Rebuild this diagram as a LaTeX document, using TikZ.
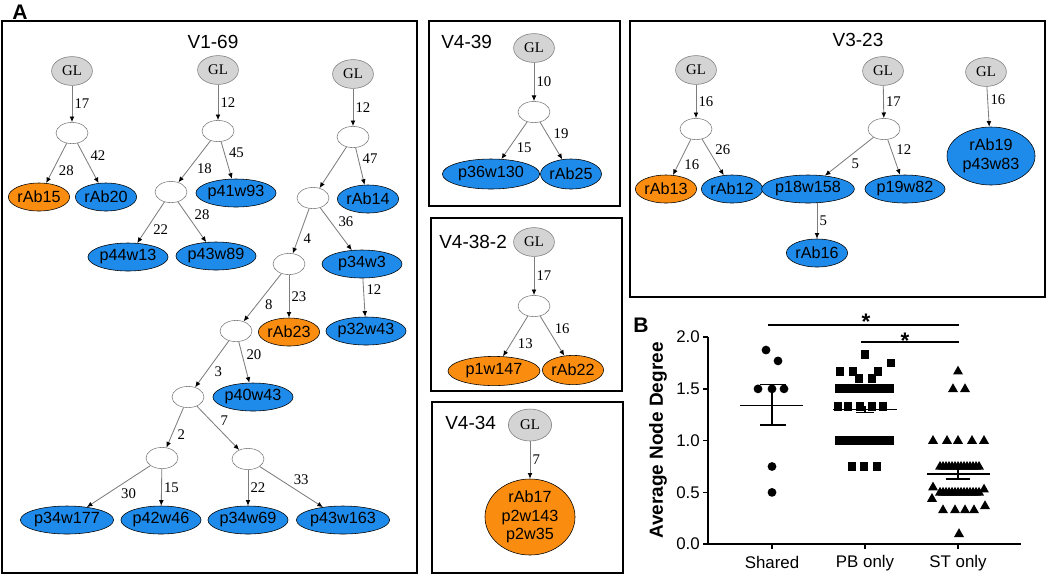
\documentclass[tikz,border=0pt]{standalone}
\usepackage{fontspec}
\setmainfont{Liberation Sans}
\newfontfamily\gvserif{Liberation Serif}
\usetikzlibrary{shapes.geometric, arrows.meta}

\definecolor{leafblue}{RGB}{30,139,235}
\definecolor{leaforange}{RGB}{250,140,15}
\definecolor{glgray}{RGB}{212,212,212}
\definecolor{edgegray}{RGB}{125,125,125}

\newcommand{\dotmark}[2]{\fill (#1,#2) circle[radius=0.11cm];}
\newcommand{\sqmark}[2]{\fill (#1,#2) ++(-0.11cm,-0.11cm) rectangle ++(0.22cm,0.22cm);}
\newcommand{\trimark}[2]{\fill (#1,#2) ++(0,0.14cm) -- ++(0.125cm,-0.22cm) -- ++(-0.25cm,0) -- cycle;}

\begin{document}
\begin{tikzpicture}[
  x=0.025cm, y=-0.025cm,
  panel/.style = {draw, line width=1.1pt},
  title/.style = {font=\fontsize{13.5}{15}\selectfont, inner sep=0pt},
  gl/.style = {ellipse, draw=edgegray, fill=glgray, minimum width=1.02cm,
               minimum height=0.72cm, inner sep=0pt,
               font=\gvserif\fontsize{10.5}{12}\selectfont},
  hid/.style = {ellipse, draw=edgegray, fill=white,
                minimum width=0.8cm, minimum height=0.53cm},
  leaf/.style = {ellipse, draw=black, inner sep=0pt, minimum height=0.7cm,
                 font=\fontsize{11.5}{13.2}\selectfont, align=center},
  bl/.style = {leaf, fill=leafblue},
  og/.style = {leaf, fill=leaforange},
  narrow/.style = {minimum width=1.53cm},
  wide/.style = {minimum width=2.0cm},
  wider/.style = {minimum width=2.33cm},
  arr/.style = {draw=edgegray, line width=0.6pt,
                -{Latex[length=4pt, width=3.4pt, black]}},
  el/.style = {auto, midway, inner sep=1.5pt,
               font=\gvserif\fontsize{10.5}{12}\selectfont},
  tick/.style = {font=\fontsize{12}{14}\selectfont, inner sep=0pt},
  axis/.style = {line width=1.1pt},
]
\useasboundingbox (0,0) rectangle (1050,575);

\node[font=\bfseries\fontsize{15}{15}\selectfont, inner sep=0pt] (labA) at (20,12) {A};

% V1-69
\draw[panel] (2,21) rectangle (417,573);
\node[title] (tV169) at (213,42) {V1-69};

\node[gl] (glA) at (72,71) {GL};
\node[gl] (glB) at (218,70) {GL};
\node[gl] (glC) at (353,74) {GL};

\node[hid] (hA) at (72,133) {};
\node[hid] (hB) at (218,131) {};
\node[hid] (hC) at (353,137) {};
\node[hid] (hB2) at (171,192) {};
\node[hid] (hC2) at (313,198) {};
\node[hid] (hC3) at (289,264) {};
\node[hid] (hC4) at (236,331) {};
\node[hid] (hC5) at (188,397) {};
\node[hid] (hC6) at (162,458) {};
\node[hid] (hC7) at (248,459) {};

\node[og, narrow] (rAb15) at (39,197) {rAb15};
\node[bl, narrow] (rAb20) at (106,197) {rAb20};
\node[bl, wide] (p41w93) at (236,193) {p41w93};
\node[bl, narrow] (rAb14) at (368,199) {rAb14};
\node[bl, wide] (p44w13) at (128,257) {p44w13};
\node[bl, wide] (p43w89) at (216,256) {p43w89};
\node[bl, wide] (p34w3) at (362,264) {p34w3};
\node[og, narrow] (rAb23) at (289,332) {rAb23};
\node[bl, wide] (p32w43) at (366,331) {p32w43};
\node[bl, wide] (p40w43) at (253,397) {p40w43};
\node[bl, wider] (p34w177) at (67,520) {p34w177};
\node[bl, wide] (p42w46) at (161,520) {p42w46};
\node[bl, wide] (p34w69) at (248,520) {p34w69};
\node[bl, wider] (p43w163) at (343,520) {p43w163};

\draw[arr] (glA) -- node[el] {17} (hA);
\draw[arr] (hA) -- node[el] {28} (rAb15);
\draw[arr] (hA) -- node[el] {42} (rAb20);
\draw[arr] (glB) -- node[el] {12} (hB);
\draw[arr] (hB) -- node[el] {18} (hB2);
\draw[arr] (hB) -- node[el] {45} (p41w93);
\draw[arr] (hB2) -- node[el] {22} (p44w13);
\draw[arr] (hB2) -- node[el] {28} (p43w89);
\draw[arr] (glC) -- node[el] {12} (hC);
\draw[arr] (hC) -- (hC2);
\draw[arr] (hC) -- node[el] {47} (rAb14);
\draw[arr] (hC2) -- node[el] {4} (hC3);
\draw[arr] (hC2) -- node[el] {36} (p34w3);
\draw[arr] (p34w3) -- node[el] {12} (p32w43);
\draw[arr] (hC3) -- node[el] {8} (hC4);
\draw[arr] (hC3) -- node[el] {23} (rAb23);
\draw[arr] (hC4) -- node[el] {3} (hC5);
\draw[arr] (hC4) -- node[el] {20} (p40w43);
\draw[arr] (hC5) -- node[el] {2} (hC6);
\draw[arr] (hC5) -- node[el] {7} (hC7);
\draw[arr] (hC6) -- node[el] {30} (p34w177);
\draw[arr] (hC6) -- node[el] {15} (p42w46);
\draw[arr] (hC7) -- node[el] {22} (p34w69);
\draw[arr] (hC7) -- node[el] {33} (p43w163);

% V4-39
\draw[panel] (429,21) rectangle (620,206);
\node[title, anchor=west] (tV439) at (441,42) {V4-39};
\node[gl] (glD) at (534,48) {GL};
\node[hid] (hD) at (534,112) {};
\node[bl, minimum width=2.43cm, minimum height=0.75cm] (p36w130) at (491,174) {p36w130};
\node[bl, minimum width=1.28cm, minimum height=0.75cm] (rAb25) at (571,174) {rAb25};
\draw[arr] (glD) -- node[el] {10} (hD);
\draw[arr] (hD) -- node[el] {15} (p36w130);
\draw[arr] (hD) -- node[el] {19} (rAb25);

% V4-38-2
\draw[panel] (431,218) rectangle (622,391);
\node[title, anchor=west] (tV4382) at (439,242) {V4-38-2};
\node[gl] (glE) at (534,242) {GL};
\node[hid] (hE) at (534,306) {};
\node[og, minimum width=2.3cm, minimum height=0.73cm] (p1w147) at (494,371) {p1w147};
\node[og, narrow, minimum height=0.73cm] (rAb22) at (573,370) {rAb22};
\draw[arr] (glE) -- node[el] {17} (hE);
\draw[arr] (hE) -- node[el] {13} (p1w147);
\draw[arr] (hE) -- node[el] {16} (rAb22);

% V4-34
\draw[panel] (432,402) rectangle (623,573);
\node[title, anchor=west] (tV434) at (445,423) {V4-34};
\node[gl, minimum width=1.08cm, minimum height=0.8cm] (glF) at (530,425) {GL};
\node[og, minimum width=2.25cm, minimum height=1.9cm] (rAb17) at (530,517) {rAb17\\p2w143\\p2w35};
\draw[arr] (glF) -- node[el] {7} (rAb17);

% V3-23
\draw[panel] (630,21) rectangle (1045,297);
\node[title] (tV323) at (858,40) {V3-23};
\node[gl] (glG) at (696,70) {GL};
\node[gl] (glH) at (883,71) {GL};
\node[gl] (glI) at (986,72) {GL};
\node[hid] (hG) at (696,129) {};
\node[hid] (hH) at (884,129) {};
\node[og, narrow] (rAb13) at (666,189) {rAb13};
\node[bl, narrow] (rAb12) at (732,189) {rAb12};
\node[bl, wide] (p18w158) at (808,189) {p18w158};
\node[bl, wide] (p19w82) at (905,189) {p19w82};
\node[bl, narrow] (rAb16) at (817,253) {rAb16};
\node[bl, minimum width=2.2cm, minimum height=1.45cm] (rAb19) at (991,156) {rAb19\\p43w83};
\draw[arr] (glG) -- node[el] {16} (hG);
\draw[arr] (hG) -- node[el] {16} (rAb13);
\draw[arr] (hG) -- node[el] {26} (rAb12);
\draw[arr] (glH) -- node[el] {17} (hH);
\draw[arr] (hH) -- node[el] {5} (p18w158);
\draw[arr] (hH) -- node[el] {12} (p19w82);
\draw[arr] (p18w158.south -| rAb16) -- node[el] {5} (rAb16);
\draw[arr] (glI) -- node[el] {16} (rAb19);

% B
\node[font=\bfseries\fontsize{15}{15}\selectfont, inner sep=0pt] (labB) at (641,325) {B};
\begin{scope}[shift={(0cm,-13.6cm)}, y=2.5875cm]
  \draw[axis] (708,2.0) -- (708,0) -- (1021,0);
  \foreach \v [count=\k] in {0.0,0.5,1.0,1.5,2.0} {
    \draw[axis] (703,\v) -- (708,\v);
    \node[tick, anchor=east] (yt\k) at (700,\v) {\v};
  }
  \foreach \x/\t [count=\k] in {772/Shared, 865/PB only, 958/ST only} {
    \draw[axis] (\x,0) -- ++(0,-0.12cm);
    \node[tick] (xt\k) at (\x,-0.18) {\t};
  }
  \node[rotate=90, font=\bfseries\fontsize{13.5}{15}\selectfont] (ylab) at (658,1.0) {Average Node Degree};

  % significance
  \draw[axis] (768,2.116) -- (959,2.116);
  \node[anchor=base, font=\bfseries\fontsize{16}{16}\selectfont, inner sep=0pt] (star1) at (866,2.07) {*};
  \draw[axis] (861,1.952) -- (959,1.952);
  \node[anchor=base, font=\bfseries\fontsize{16}{16}\selectfont, inner sep=0pt] (star2) at (905,1.89) {*};

  % Shared
  \foreach \x/\v in {766/1.875, 778/1.77, 758/1.5, 772/1.5, 784/1.5, 772/0.75, 772/0.5}
    {\dotmark{\x}{\v}}
  \draw[axis] (740,1.34) -- (803,1.34);
  \draw[axis] (772,1.15) -- (772,1.54);
  \draw[axis] (760,1.54) -- (786,1.54);
  \draw[axis] (760,1.15) -- (786,1.15);

  % PB only
  \foreach \x/\v in {865/1.83, 891/1.75, 840/1.67, 853/1.67, 878/1.67, 859/1.6, 872/1.6,
                     838/1.33, 848/1.33, 860/1.33, 872/1.33, 883/1.33,
                     852/0.75, 864/0.75, 877/0.75}
    {\sqmark{\x}{\v}}
  \foreach \x in {839,842,...,891} {\sqmark{\x}{1.5} \sqmark{\x}{1.0}}
  \draw[axis] (833,1.30) -- (897,1.30);
  \draw[axis] (865,1.27) -- (865,1.33);
  \draw[axis] (856,1.27) -- (874,1.27);

  % ST only
  \foreach \x/\v in {958/1.67, 953/1.5, 965/1.5,
                     933/1.0, 947/1.0, 958/1.0, 972/1.0, 984/1.0,
                     933/0.55, 932/0.44, 984/0.53,
                     943/0.33, 955/0.33, 965/0.33, 974/0.33, 985/0.37, 959/0.1}
    {\trimark{\x}{\v}}
  \foreach \x in {940,943,...,979} {\trimark{\x}{0.75} \trimark{\x}{0.5}}
  \draw[axis] (927,0.68) -- (990,0.68);
  \draw[axis] (958,0.63) -- (958,0.73);
  \draw[axis] (946,0.63) -- (970,0.63);
  \draw[axis] (946,0.73) -- (970,0.73);
\end{scope}
\end{tikzpicture}
\end{document}
